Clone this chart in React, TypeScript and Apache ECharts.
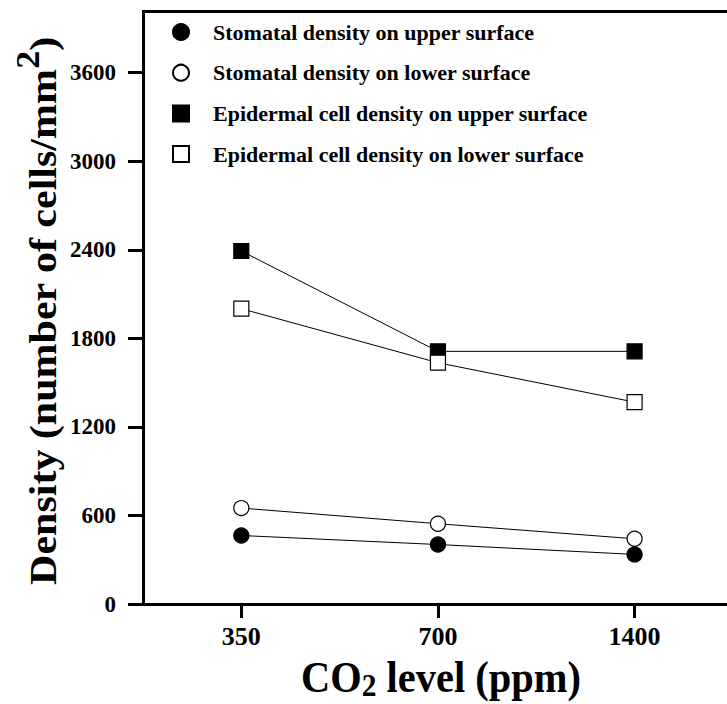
import React, { useEffect, useRef } from 'react';
import * as echarts from 'echarts';

const co2Levels = ['350', '700', '1400'];
const stomatalUpper = [464, 403, 336];
const stomatalLower = [650, 544, 442];
const epidermalUpper = [2392, 1712, 1712];
const epidermalLower = [2001, 1635, 1368];
const yTicks = [0, 600, 1200, 1800, 2400, 3000, 3600];
const seriesNames = [
  'Stomatal density on upper surface',
  'Stomatal density on lower surface',
  'Epidermal cell density on upper surface',
  'Epidermal cell density on lower surface',
];

const FONT = "'Liberation Serif', 'Times New Roman', serif";

export default function App() {
  const ref = useRef<HTMLDivElement>(null);
  useEffect(() => {
    const chart = echarts.init(ref.current!, null, { renderer: 'svg' });
    const xIdx = co2Levels.map((_, i) => i);
    const mk = (name: string, values: number[], symbol: string, filled: boolean) => ({
      name,
      type: 'line',
      data: values.map((v, i) => [xIdx[i], v]),
      symbol,
      symbolSize: 15,
      lineStyle: { color: '#000', width: 1 },
      itemStyle: { color: filled ? '#000' : '#fff', borderColor: '#000', borderWidth: 1.2 },
      emphasis: { disabled: true },
    });
    const textBase = { fontFamily: FONT, fontWeight: 'bold', fill: '#000' };
    chart.setOption({
      animation: false,
      grid: { left: 143, top: 11.5, right: 0, height: 592.5 },
      legend: {
        orient: 'vertical',
        left: 167,
        top: 16,
        itemWidth: 16,
        itemHeight: 16,
        itemGap: 18.7,
        selectedMode: false,
        data: [
          { name: seriesNames[0], icon: 'circle' },
          { name: seriesNames[1], icon: 'circle' },
          { name: seriesNames[2], icon: 'rect' },
          { name: seriesNames[3], icon: 'rect' },
        ],
        textStyle: {
          fontFamily: FONT,
          fontWeight: 'bold',
          fontSize: 22,
          color: '#000',
          lineHeight: 20,
          padding: [0, 0, 0, 19],
        },
      },
      xAxis: {
        type: 'value',
        min: -0.5,
        max: 2.47,
        axisLine: { show: true, onZero: false, lineStyle: { color: '#000', width: 3 } },
        axisTick: { show: true, length: 14, customValues: xIdx, lineStyle: { color: '#000', width: 3 } },
        axisLabel: {
          customValues: xIdx,
          formatter: (v: number) => co2Levels[Math.round(v)] ?? '',
          margin: 19,
          fontSize: 26,
          fontWeight: 'bold',
          fontFamily: FONT,
          color: '#000',
        },
        splitLine: { show: false },
      },
      yAxis: {
        type: 'value',
        min: 0,
        max: 4015,
        axisLine: { show: true, onZero: false, lineStyle: { color: '#000', width: 3 } },
        axisTick: { show: true, length: 15, customValues: yTicks, lineStyle: { color: '#000', width: 3 } },
        axisLabel: {
          customValues: yTicks,
          formatter: (v: number) => String(v),
          margin: 27,
          fontSize: 23,
          fontWeight: 'bold',
          fontFamily: FONT,
          color: '#000',
        },
        splitLine: { show: false },
      },
      graphic: [
        { type: 'line', shape: { x1: 142, y1: 11.5, x2: 727, y2: 11.5 }, style: { stroke: '#000', lineWidth: 3 } },
        {
          type: 'text',
          x: 441,
          y: 677,
          scaleX: 0.92,
          style: {
            text: '{a|CO}{s|2}{a| level (ppm)}',
            align: 'center',
            verticalAlign: 'middle',
            rich: {
              a: { ...textBase, fontSize: 44, lineHeight: 50 },
              s: { ...textBase, fontSize: 32, lineHeight: 10, verticalAlign: 'bottom' },
            },
          },
        },
        {
          type: 'text',
          x: 43,
          y: 311,
          rotation: Math.PI / 2,
          scaleY: 0.92,
          style: {
            text: '{a|Density (number of cells/mm}{s|2}{a|)}',
            align: 'center',
            verticalAlign: 'middle',
            rich: {
              a: { ...textBase, fontSize: 42, lineHeight: 70 },
              s: { ...textBase, fontSize: 36, lineHeight: 10, verticalAlign: 'top' },
            },
          },
        },
      ],
      series: [
        mk(seriesNames[0], stomatalUpper, 'circle', true),
        mk(seriesNames[1], stomatalLower, 'circle', false),
        mk(seriesNames[2], epidermalUpper, 'rect', true),
        mk(seriesNames[3], epidermalLower, 'rect', false),
      ],
    });
    return () => chart.dispose();
  }, []);
  return <div ref={ref} style={{ position: 'absolute', left: 0, top: 0, width: 727, height: 704 }} />;
}
